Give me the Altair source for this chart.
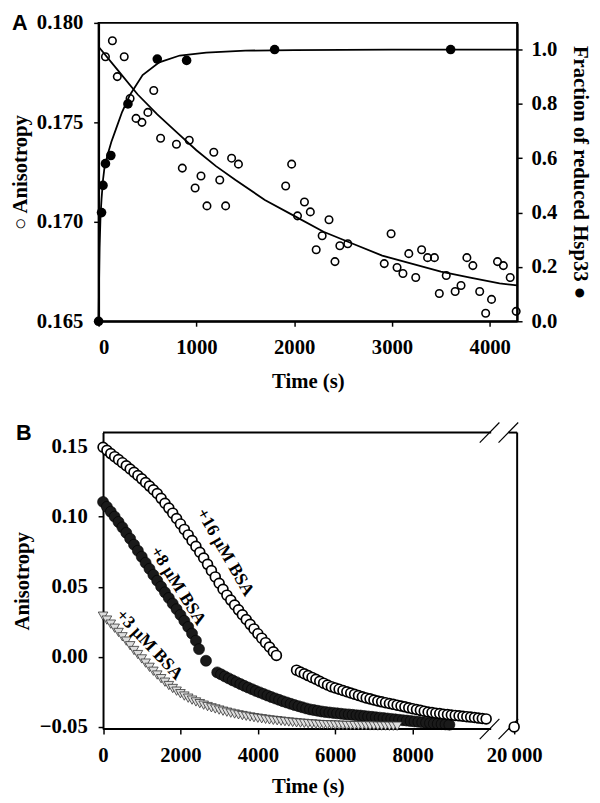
import altair as alt
import pandas as pd
import numpy as np

SERIF = "Liberation Serif"
SANS = "Liberation Sans"

# ---------------- Panel A data ----------------
A_OPEN_T = [70, 141, 262, 191, 322, 564, 383, 443, 504, 634, 796, 927, 856, 1047, 987, 1239, 1178,
            1360, 1430, 1108, 1299, 1913, 1974, 2105, 2165, 2034, 2356, 2286, 2225, 2467, 2548, 2417,
            2991, 2921, 3052, 3112, 3243, 3172, 3303, 3364, 3434, 3555, 3484, 3646, 3706, 3766, 3827,
            3897, 3958, 4018, 4079, 4139, 4209, 4270]
A_OPEN_A = [0.1783, 0.1791, 0.1783, 0.1773, 0.1762, 0.1766, 0.1752, 0.1750, 0.1755, 0.1742, 0.1739,
            0.1741, 0.1727, 0.1723, 0.1717, 0.1721, 0.1735, 0.1732, 0.1729, 0.1708, 0.1708, 0.1718,
            0.1729, 0.1710, 0.1705, 0.1703, 0.1701, 0.1693, 0.1686, 0.1688, 0.1689, 0.1680, 0.1694,
            0.1679, 0.1677, 0.1674, 0.1672, 0.1684, 0.1686, 0.1682, 0.1682, 0.1673, 0.1664, 0.1665,
            0.1668, 0.1682, 0.1678, 0.1665, 0.1654, 0.1661, 0.1680, 0.1678, 0.1672, 0.1655]
A_FIT_OPEN_T = [0, 200, 400, 600, 800, 1000, 1200, 1400, 1700, 2000, 2300, 2600, 2900, 3200, 3500,
                3800, 4100, 4280]
A_FIT_OPEN_A = [0.1788, 0.1776, 0.1764, 0.1754, 0.1745, 0.1736, 0.1728, 0.1721, 0.1711, 0.1703,
                0.1695, 0.1689, 0.1683, 0.1679, 0.1675, 0.1672, 0.1669, 0.1668]
A_FILL_T = [0, 30, 45, 70, 125, 300, 600, 900, 1800, 3600]
A_FILL_F = [0.0, 0.40, 0.50, 0.58, 0.61, 0.80, 0.965, 0.96, 1.0, 1.0]
A_FIT_FILL_T = [0, 5, 10, 20, 30, 45, 60, 90, 130, 180, 240, 320, 450, 620, 830, 1100, 1500, 2000,
                3000, 4280]
A_FIT_FILL_F = [0.0, 0.15, 0.27, 0.39, 0.45, 0.52, 0.565, 0.61, 0.66, 0.71, 0.77, 0.833, 0.906,
                0.953, 0.978, 0.989, 0.996, 0.998, 1.0, 1.0]
A_X_TICKS = [0, 1000, 2000, 3000, 4000]
A_Y_TICKS = [0.165, 0.170, 0.175, 0.180]
A_F_TICKS = [0.0, 0.2, 0.4, 0.6, 0.8, 1.0]

# ---------------- Panel B data ----------------
B16_T1 = list(range(0, 4500, 100)) + [4480]
B16_A1 = [0.1495, 0.1473, 0.1450, 0.1428, 0.1407, 0.1385, 0.1363, 0.1340, 0.1317, 0.1294, 0.1270,
          0.1244, 0.1218, 0.1192, 0.1165, 0.1131, 0.1096, 0.1061, 0.1025, 0.0987, 0.0948, 0.0909,
          0.0870, 0.0829, 0.0788, 0.0746, 0.0705, 0.0660, 0.0615, 0.0570, 0.0525, 0.0482, 0.0440,
          0.0405, 0.0370, 0.0335, 0.0300, 0.0266, 0.0232, 0.0199, 0.0165, 0.0133, 0.0101, 0.0070,
          0.0036, 0.0010]
B16_T2 = list(range(5000, 10000, 100)) + [20000]
B16_A2 = [-0.0095, -0.0108, -0.0121, -0.0134, -0.0147, -0.0160, -0.0174, -0.0188, -0.0201, -0.0213,
          -0.0222, -0.0231, -0.0240, -0.0249, -0.0258, -0.0267, -0.0276, -0.0285, -0.0293, -0.0300,
          -0.0308, -0.0315, -0.0321, -0.0327, -0.0333, -0.0339, -0.0345, -0.0351, -0.0357, -0.0364,
          -0.0370, -0.0376, -0.0382, -0.0388, -0.0394, -0.0398, -0.0402, -0.0405, -0.0409, -0.0412,
          -0.0415, -0.0418, -0.0421, -0.0424, -0.0427, -0.0430, -0.0433, -0.0437, -0.0440, -0.0443,
          -0.0500]
B8_T1 = list(range(0, 2500, 100)) + [2480, 2660]
B8_A1 = [0.1105, 0.1070, 0.1035, 0.1000, 0.0962, 0.0924, 0.0885, 0.0843, 0.0800, 0.0757, 0.0714,
         0.0671, 0.0628, 0.0585, 0.0543, 0.0501, 0.0460, 0.0420, 0.0380, 0.0340, 0.0299, 0.0257,
         0.0213, 0.0166, 0.0115, 0.0055, -0.0028]
B8_T2 = list(range(2950, 9000, 100))
B8_A2 = [-0.0111, -0.0125, -0.0140, -0.0154, -0.0168, -0.0181, -0.0194, -0.0207, -0.0219, -0.0231,
         -0.0243, -0.0254, -0.0265, -0.0276, -0.0287, -0.0297, -0.0307, -0.0317, -0.0326, -0.0335,
         -0.0344, -0.0352, -0.0360, -0.0368, -0.0375, -0.0380, -0.0385, -0.0390, -0.0394, -0.0397,
         -0.0400, -0.0403, -0.0406, -0.0409, -0.0411, -0.0414, -0.0417, -0.0419, -0.0422, -0.0425,
         -0.0428, -0.0431, -0.0434, -0.0437, -0.0440, -0.0443, -0.0446, -0.0449, -0.0452, -0.0455,
         -0.0458, -0.0461, -0.0464, -0.0467, -0.0470, -0.0473, -0.0476, -0.0478, -0.0480, -0.0482,
         -0.0484]
B3_T = list(range(0, 7700, 100))
B3_A = [0.0290, 0.0262, 0.0233, 0.0204, 0.0174, 0.0143, 0.0112, 0.0079, 0.0045, 0.0016,
        -0.0015, -0.0045, -0.0075, -0.0103, -0.0130, -0.0156, -0.0181, -0.0205, -0.0226, -0.0245,
        -0.0263, -0.0280, -0.0295, -0.0309, -0.0322, -0.0334, -0.0345, -0.0355, -0.0364, -0.0372,
        -0.0380, -0.0388, -0.0395, -0.0402, -0.0408, -0.0414, -0.0419, -0.0424, -0.0429, -0.0434,
        -0.0438, -0.0442, -0.0446, -0.0450, -0.0453, -0.0456, -0.0459, -0.0462, -0.0465, -0.0468,
        -0.0471, -0.0473, -0.0475, -0.0477, -0.0479, -0.0481, -0.0483, -0.0484, -0.0485, -0.0486,
        -0.0487, -0.0488, -0.0489, -0.0490, -0.0490, -0.0491, -0.0491, -0.0492, -0.0492, -0.0493,
        -0.0493, -0.0494, -0.0494, -0.0494, -0.0495, -0.0495, -0.0495]
B_LABELS = ["+16 \u03bcM BSA", "+8 \u03bcM BSA", "+3 \u03bcM BSA"]
B_LABEL_T = [3150, 1930, 1190]
B_LABEL_A = [0.0745, 0.0505, 0.0085]
B_LABEL_ANGLE = [60, 58, 47]
B_X_TICKS = [0, 2000, 4000, 6000, 8000, 20000]
B_Y_TICKS = [-0.05, 0.0, 0.05, 0.10, 0.15]

# broken-axis geometry (axis units)
BREAK_AT = 15000          # times above this sit right of the break
X20_POS = 10624           # where 20 000 s is drawn
X_MIN, X_MAX = -115, 10701
Y_MIN, Y_MAX = -0.0515, 0.160
GAP = (10030, 10475)
SLASH_X = [9988, 10474]
SLASH_DX, SLASH_DY = 254, 0.0072

FS = 21  # axis font size


def bpos(t):
    t = np.asarray(t, dtype=float)
    return np.where(t > BREAK_AT, t - 20000 + X20_POS, t)


# ---------------- Panel A chart ----------------
XA = alt.X("t:Q", scale=alt.Scale(domain=[0, 4280], nice=False, zero=False),
           axis=alt.Axis(values=A_X_TICKS, format="d", title="Time (s)", titlePadding=13))
YA = alt.Y("a:Q", scale=alt.Scale(domain=[0.165, 0.180], nice=False, zero=False),
           axis=alt.Axis(values=A_Y_TICKS, format=".3f", title="\u25cb Anisotropy",
                         orient="left", titlePadding=6))
YF = alt.Y("f:Q", scale=alt.Scale(domain=[0, 1.098], nice=False, zero=False),
           axis=alt.Axis(values=A_F_TICKS, format=".1f", title="Fraction of reduced Hsp33 \u25cf",
                         orient="right", labelPadding=9, titlePadding=13))

a_open = alt.Chart(pd.DataFrame({"t": A_OPEN_T, "a": A_OPEN_A})).mark_point(
    shape="circle", filled=False, stroke="black", strokeWidth=1.6, size=58, opacity=1, clip=False
).encode(x=XA, y=YA)
a_open_fit = alt.Chart(pd.DataFrame({"t": A_FIT_OPEN_T, "a": A_FIT_OPEN_A})).mark_line(
    color="black", strokeWidth=1.8, clip=False
).encode(x=XA, y=YA)
a_fill_fit = alt.Chart(pd.DataFrame({"t": A_FIT_FILL_T, "f": A_FIT_FILL_F})).mark_line(
    color="black", strokeWidth=1.8, clip=False
).encode(x=XA, y=YF)
a_fill = alt.Chart(pd.DataFrame({"t": A_FILL_T, "f": A_FILL_F})).mark_circle(
    color="black", size=95, opacity=1, clip=False
).encode(x=XA, y=YF)
a_label = alt.Chart(pd.DataFrame({"lab": ["A"]})).mark_text(
    font=SANS, fontWeight="bold", fontSize=22, color="black", align="center", baseline="middle"
).encode(text="lab:N", x=alt.value(-80), y=alt.value(0.5))

left_layer = alt.layer(a_open_fit, a_open)
right_layer = alt.layer(a_fill_fit, a_fill, a_label)
panel_a = alt.layer(left_layer, right_layer).resolve_scale(y="independent").properties(
    width=425, height=303, view=alt.ViewBackground(stroke="black", strokeWidth=2)
)

# ---------------- Panel B chart ----------------
def series_df(t, a):
    return pd.DataFrame({"xpos": bpos(t), "a": a})


XB = alt.X("xpos:Q", scale=alt.Scale(domain=[X_MIN, X_MAX], nice=False, zero=False),
           axis=alt.Axis(values=[float(v) for v in bpos(B_X_TICKS)], format="d", domain=False,
                         labelExpr="datum.value > 10000 ? '20\u2009000' : datum.label",
                         title="Time (s)", titlePadding=10))
YB = alt.Y("a:Q", scale=alt.Scale(domain=[Y_MIN, Y_MAX], nice=False, zero=False),
           axis=alt.Axis(values=B_Y_TICKS, format=".2f", offset=-4.5,
                         labelExpr="replace(datum.label, '-', '\u2212')",
                         title="Anisotropy", titlePadding=7))

frame_rows = [
    (0, GAP[0], Y_MAX, Y_MAX), (GAP[1], X_MAX, Y_MAX, Y_MAX),
    (0, GAP[0], Y_MIN, Y_MIN), (GAP[1], X_MAX, Y_MIN, Y_MIN),
    (X_MAX, X_MAX, Y_MIN, Y_MAX),
]
frame_df = pd.DataFrame(frame_rows, columns=["xpos", "xpos2", "a", "a2"])
slash_rows = []
for sx in SLASH_X:
    for yy in (Y_MIN, Y_MAX):
        slash_rows.append((sx - SLASH_DX, sx + SLASH_DX, yy - SLASH_DY, yy + SLASH_DY))
slash_df = pd.DataFrame(slash_rows, columns=["xpos", "xpos2", "a", "a2"])

b8 = alt.Chart(pd.concat([series_df(B8_T1, B8_A1), series_df(B8_T2, B8_A2)])).mark_point(
    shape="circle", filled=True, fill="#1a1a1a", stroke="black", strokeWidth=0.6, size=125,
    opacity=1, clip=False
).encode(x=XB, y=YB)
b_frame = alt.Chart(frame_df).mark_rule(color="black", strokeWidth=2, clip=False).encode(
    x=XB, x2="xpos2:Q", y=YB, y2="a2:Q")
b_slash = alt.Chart(slash_df).mark_rule(color="black", strokeWidth=1.2, clip=False).encode(
    x=XB, x2="xpos2:Q", y=YB, y2="a2:Q")
b3 = alt.Chart(series_df(B3_T, B3_A)).mark_point(
    shape="triangle-down", filled=True, fill="#dedede", stroke="#333333", strokeWidth=0.8,
    size=95, opacity=1, clip=False
).encode(x=XB, y=YB)
b16 = alt.Chart(pd.concat([series_df(B16_T1, B16_A1), series_df(B16_T2, B16_A2)])).mark_point(
    shape="circle", filled=True, fill="white", stroke="black", strokeWidth=1.7, size=100,
    opacity=1, clip=False
).encode(x=XB, y=YB)
b_text = alt.Chart(pd.DataFrame({"xpos": bpos(B_LABEL_T), "a": B_LABEL_A, "lab": B_LABELS,
                                 "ang": B_LABEL_ANGLE})).mark_text(
    font=SERIF, fontWeight="bold", fontSize=18, color="black", align="center", baseline="middle"
).encode(x=XB, y=YB, text="lab:N", angle=alt.Angle("ang:Q", scale=None))
b_label = alt.Chart(pd.DataFrame({"lab": ["B"]})).mark_text(
    font=SANS, fontWeight="bold", fontSize=22, color="black", align="center", baseline="middle"
).encode(text="lab:N", x=alt.value(-76), y=alt.value(0.5))

panel_b = alt.layer(b8, b_frame, b_slash, b3, b16, b_text, b_label).properties(width=425, height=301)

chart = alt.vconcat(panel_a, panel_b, spacing=30).properties(
    padding={"left": 0, "top": -3, "right": 0, "bottom": 0}
).configure_view(strokeWidth=0).configure_axis(
    labelFont=SERIF, titleFont=SERIF, labelFontSize=FS, titleFontSize=FS,
    labelFontWeight="bold", titleFontWeight="bold", labelColor="black", titleColor="black",
    domainColor="black", domainWidth=2, tickColor="black", tickWidth=1.5, tickSize=5,
    labelPadding=11, grid=False
)

chart.save("out.html", embed_options={"renderer": "svg", "actions": False})
